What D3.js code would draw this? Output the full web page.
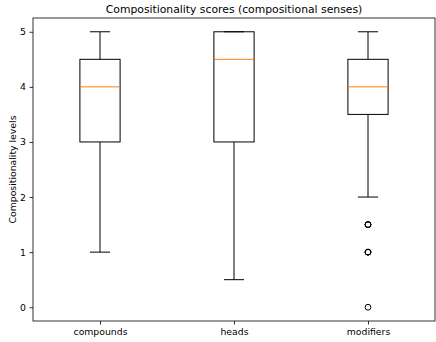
<!DOCTYPE html>
<html>
<head>
<meta charset="utf-8">
<script src="https://cdn.jsdelivr.net/npm/d3@7"></script>
<style>
  body { margin: 0; background: #fff; }
  text { font-family: "DejaVu Sans", sans-serif; fill: #000; }
</style>
</head>
<body>
<div id="chart"></div>
<script>
// data
var categories = ["compounds", "heads", "modifiers"];
var whiskerLow = [1, 0.5, 2];
var q1 = [3, 3, 3.5];
var medians = [4, 4.5, 4];
var q3 = [4.5, 5, 4.5];
var whiskerHigh = [5, 5, 5];
var fliers = [[], [], [1.5, 1.5, 1.5, 1, 1, 1, 0]];
var yTicks = [0, 1, 2, 3, 4, 5];

var svgWidth = 436;
var svgHeight = 342;
var margin = { top: 18, right: 1, bottom: 21, left: 33 };
var width = svgWidth - margin.left - margin.right;
var height = svgHeight - margin.top - margin.bottom;

var svg = d3.select("#chart")
  .append("svg")
  .attr("width", svgWidth)
  .attr("height", svgHeight);

var chartGroup = svg.append("g")
  .attr("transform", `translate(${margin.left}, ${margin.top})`);

var boxes = categories.map(function(c, i) {
  return { name: c, pos: i + 1, lo: whiskerLow[i], q1: q1[i], med: medians[i], q3: q3[i], hi: whiskerHigh[i], fl: fliers[i] };
});

// scales
var xScale = d3.scaleLinear().domain([0.5, 3.5]).range([0, width]);
var yScale = d3.scaleLinear().domain([-0.25, 5.25]).range([height, 0]);

var boxW = xScale(1.3) - xScale(1);
var capW = boxW / 2;

// axes
var bottomAxis = d3.axisBottom(xScale).tickValues([1, 2, 3])
  .tickFormat(function(d) { return categories[d - 1]; })
  .tickSize(3.5).tickPadding(3.5);
var leftAxis = d3.axisLeft(yScale).tickValues(yTicks)
  .tickFormat(d3.format("d"))
  .tickSize(3.5).tickPadding(3.5);

var xAxisG = chartGroup.append("g")
  .attr("transform", `translate(0, ${height})`)
  .call(bottomAxis);
var yAxisG = chartGroup.append("g").call(leftAxis);

[xAxisG, yAxisG].forEach(function(g) {
  g.select(".domain").remove();
  g.selectAll("line").attr("stroke", "#000").attr("stroke-width", 0.8);
  g.selectAll("text").attr("font-size", "9.3px").attr("font-family", "DejaVu Sans").attr("fill", "#000");
});

// boxes
var bg = chartGroup.selectAll(".box")
  .data(boxes)
  .enter()
  .append("g")
  .attr("class", "box");

bg.append("line")
  .attr("x1", d => xScale(d.pos)).attr("x2", d => xScale(d.pos))
  .attr("y1", d => yScale(d.lo)).attr("y2", d => yScale(d.q1))
  .attr("stroke", "#000").attr("stroke-width", 1);
bg.append("line")
  .attr("x1", d => xScale(d.pos)).attr("x2", d => xScale(d.pos))
  .attr("y1", d => yScale(d.q3)).attr("y2", d => yScale(d.hi))
  .attr("stroke", "#000").attr("stroke-width", 1);
bg.append("line")
  .attr("x1", d => xScale(d.pos) - capW / 2).attr("x2", d => xScale(d.pos) + capW / 2)
  .attr("y1", d => yScale(d.lo)).attr("y2", d => yScale(d.lo))
  .attr("stroke", "#000").attr("stroke-width", 1);
bg.append("line")
  .attr("x1", d => xScale(d.pos) - capW / 2).attr("x2", d => xScale(d.pos) + capW / 2)
  .attr("y1", d => yScale(d.hi)).attr("y2", d => yScale(d.hi))
  .attr("stroke", "#000").attr("stroke-width", 1);
bg.append("rect")
  .attr("x", d => xScale(d.pos) - boxW / 2)
  .attr("y", d => yScale(d.q3))
  .attr("width", boxW)
  .attr("height", d => yScale(d.q1) - yScale(d.q3))
  .attr("fill", "none")
  .attr("stroke", "#000").attr("stroke-width", 1);
bg.append("line")
  .attr("x1", d => xScale(d.pos) - boxW / 2).attr("x2", d => xScale(d.pos) + boxW / 2)
  .attr("y1", d => yScale(d.med)).attr("y2", d => yScale(d.med))
  .attr("stroke", "#ff7f0e").attr("stroke-width", 1);

// fliers
bg.selectAll("circle")
  .data(d => d.fl.map(v => ({ pos: d.pos, v: v })))
  .enter()
  .append("circle")
  .attr("cx", d => xScale(d.pos))
  .attr("cy", d => yScale(d.v))
  .attr("r", 2.9)
  .attr("fill", "none")
  .attr("stroke", "#000")
  .attr("stroke-width", 1);

// frame
chartGroup.append("rect")
  .attr("width", width).attr("height", height)
  .attr("fill", "none").attr("stroke", "#000").attr("stroke-width", 0.8);

// title and labels
svg.append("text")
  .attr("x", margin.left + width / 2)
  .attr("y", margin.top - 5)
  .attr("text-anchor", "middle")
  .attr("font-size", "10.8px")
  .text("Compositionality scores (compositional senses)");

svg.append("text")
  .attr("transform", `translate(16, ${margin.top + height / 2}) rotate(-90)`)
  .attr("text-anchor", "middle")
  .attr("font-size", "9.3px")
  .text("Compositionality levels");
</script>
</body>
</html>
